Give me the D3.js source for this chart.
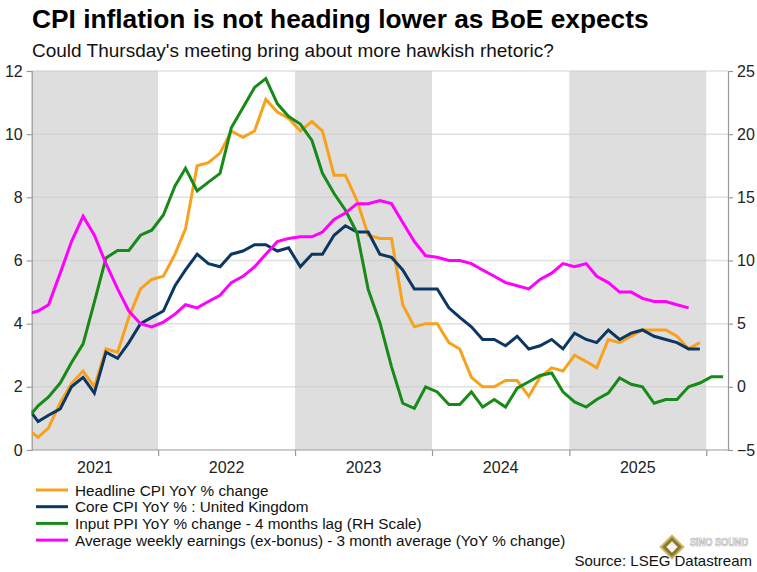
<!DOCTYPE html>
<html>
<head>
<meta charset="utf-8">
<script src="https://cdn.jsdelivr.net/npm/d3@7"></script>
<style>
    body { margin: 0; background: #fff; }
    svg { display: block; font-family: "Liberation Sans", Arial, sans-serif; }
</style>
</head>
<body>
<div id="chart"></div>
<script>
// Monthly readings, Jan 2021 onwards
const headlineCpi = [
    0.7, 0.4, 0.7, 1.5, 2.1, 2.5, 2.0, 3.2, 3.1, 4.2, 5.1, 5.4,
    5.5, 6.2, 7.0, 9.0, 9.1, 9.4, 10.1, 9.9, 10.1, 11.1, 10.7, 10.5,
    10.1, 10.4, 10.1, 8.7, 8.7, 7.9, 6.8, 6.7, 6.7, 4.6, 3.9, 4.0,
    4.0, 3.4, 3.2, 2.3, 2.0, 2.0, 2.2, 2.2, 1.7, 2.3, 2.6, 2.5,
    3.0, 2.8, 2.6, 3.5, 3.4, 3.6, 3.8, 3.8, 3.8, 3.6, 3.2, 3.4
];
const coreCpi = [
    1.4, 0.9, 1.1, 1.3, 2.0, 2.3, 1.8, 3.1, 2.9, 3.4, 4.0, 4.2,
    4.4, 5.2, 5.7, 6.2, 5.9, 5.8, 6.2, 6.3, 6.5, 6.5, 6.3, 6.4,
    5.8, 6.2, 6.2, 6.8, 7.1, 6.9, 6.9, 6.2, 6.1, 5.7, 5.1, 5.1,
    5.1, 4.5, 4.2, 3.9, 3.5, 3.5, 3.3, 3.6, 3.2, 3.3, 3.5, 3.2,
    3.7, 3.5, 3.4, 3.8, 3.5, 3.7, 3.8, 3.6, 3.5, 3.4, 3.2, 3.2
];
// right hand scale, runs to Feb 2026
const inputPpiLag = [
    -2.6, -1.5, -0.8, 0.3, 1.9, 3.4, 6.7, 10.2, 10.8, 10.8, 12.0, 12.4,
    13.6, 15.9, 17.3, 15.5, 16.2, 16.9, 20.5, 22.1, 23.7, 24.4, 22.4, 21.4,
    20.8, 19.5, 16.9, 15.3, 14.0, 12.2, 7.7, 5.1, 1.6, -1.3, -1.7, 0.0,
    -0.4, -1.4, -1.4, -0.4, -1.6, -1.0, -1.6, -0.1, 0.4, 0.9, 1.1, -0.4,
    -1.2, -1.6, -1.0, -0.5, 0.7, 0.2, 0.0, -1.3, -1.0, -1.0, 0.0, 0.3,
    0.8, 0.8
];
// runs to Nov 2025
const weeklyEarnings = [
    4.3, 4.4, 4.6, 5.6, 6.6, 7.4, 6.8, 5.9, 5.1, 4.4, 4.0, 3.9,
    4.05, 4.3, 4.6, 4.5, 4.7, 4.9, 5.3, 5.5, 5.8, 6.2, 6.6, 6.7,
    6.75, 6.75, 6.9, 7.3, 7.5, 7.8, 7.8, 7.9, 7.8, 7.2, 6.6, 6.15,
    6.1, 6.0, 6.0, 5.9, 5.7, 5.5, 5.3, 5.2, 5.1, 5.4, 5.6, 5.9,
    5.8, 5.9, 5.5, 5.3, 5.0, 5.0, 4.8, 4.7, 4.7, 4.6, 4.5
];

const years = [2021, 2022, 2023, 2024, 2025];
const shadedYears = [2021, 2023, 2025];
const leftTicks = [0, 2, 4, 6, 8, 10, 12];
const rightTicks = [-5, 0, 5, 10, 15, 20, 25];

const seriesList = [
    { name: "Headline CPI YoY % change", values: headlineCpi, axis: "left", color: "#f7a11c" },
    { name: "Core CPI YoY % : United Kingdom", values: coreCpi, axis: "left", color: "#0c3762" },
    { name: "Input PPI YoY % change - 4 months lag (RH Scale)", values: inputPpiLag, axis: "right", color: "#178a17" },
    { name: "Average weekly earnings (ex-bonus) - 3 month average (YoY % change)", values: weeklyEarnings, axis: "left", color: "#ff00ff" }
];

const width = 757;
const height = 572;
const plot = { left: 31.7, right: 728, top: 71, bottom: 450 };

const monthDate = i => new Date(2021, i, 15);

const x = d3.scaleTime()
    .domain([new Date(2021, 0, 29), new Date(2026, 1, 28)])
    .range([plot.left, plot.right]);
const yLeft = d3.scaleLinear().domain([0, 12]).range([plot.bottom, plot.top]);
const yRight = d3.scaleLinear().domain([-5, 25]).range([plot.bottom, plot.top]);

const svg = d3.select("#chart").append("svg")
    .attr("width", width)
    .attr("height", height);

// Title and subtitle
svg.append("text")
    .attr("x", 32)
    .attr("y", 27.5)
    .style("font-size", "26.3px")
    .style("font-weight", "bold")
    .attr("fill", "#000")
    .text("CPI inflation is not heading lower as BoE expects");

svg.append("text")
    .attr("x", 32)
    .attr("y", 57)
    .style("font-size", "19px")
    .attr("fill", "#111")
    .text("Could Thursday's meeting bring about more hawkish rhetoric?");

svg.append("defs").append("clipPath")
    .attr("id", "plotClip")
    .append("rect")
    .attr("x", plot.left)
    .attr("y", plot.top - 5)
    .attr("width", plot.right - plot.left)
    .attr("height", plot.bottom - plot.top + 10);

// Shaded year bands
svg.append("g")
    .selectAll("rect")
    .data(shadedYears)
    .join("rect")
    .attr("x", d => Math.max(plot.left, x(new Date(d, 0, 1))))
    .attr("y", plot.top)
    .attr("width", d => Math.min(plot.right, x(new Date(d + 1, 0, 1))) - Math.max(plot.left, x(new Date(d, 0, 1))))
    .attr("height", plot.bottom - plot.top)
    .attr("fill", "#dedede");

// Gridlines
svg.append("g")
    .selectAll("line")
    .data(leftTicks.filter(d => d > 0))
    .join("line")
    .attr("x1", plot.left)
    .attr("x2", plot.right)
    .attr("y1", d => yLeft(d))
    .attr("y2", d => yLeft(d))
    .attr("stroke", "#c8c8c8")
    .attr("stroke-opacity", 0.55)
    .attr("stroke-width", 1.5);

// Left axis
const leftAxis = svg.append("g")
    .attr("transform", `translate(${plot.left},0)`)
    .call(d3.axisLeft(yLeft).tickValues(leftTicks).tickSize(5).tickPadding(4));

// Right axis
const rightAxis = svg.append("g")
    .attr("transform", `translate(${plot.right},0)`)
    .call(d3.axisRight(yRight).tickValues(rightTicks).tickSize(5).tickPadding(4));

// Bottom axis, ticks on year boundaries, labels centered in the visible year
const boundaries = years.slice(1).map(d => new Date(d, 0, 1)).concat([new Date(2026, 0, 1)]);
const bottomAxis = svg.append("g")
    .attr("transform", `translate(0,${plot.bottom})`)
    .call(d3.axisBottom(x).tickValues(boundaries).tickSize(6).tickFormat(""));

[leftAxis, rightAxis, bottomAxis].forEach(axis => {
    axis.select(".domain").attr("stroke", "#999").attr("stroke-width", 1.2);
    axis.selectAll(".tick line").attr("stroke", "#999").attr("stroke-width", 1.2);
    axis.selectAll(".tick text")
        .style("font-size", "16px")
        .attr("fill", "#222")
        .style("font-family", "'Liberation Sans', Arial, sans-serif");
});
bottomAxis.select(".domain").attr("d", `M${plot.left},0H${plot.right}`);

svg.append("g")
    .selectAll("text")
    .data(years)
    .join("text")
    .attr("x", d => (Math.max(plot.left, x(new Date(d, 0, 1))) + x(new Date(d + 1, 0, 1))) / 2)
    .attr("y", 473)
    .attr("text-anchor", "middle")
    .style("font-size", "16px")
    .attr("fill", "#222")
    .text(d => d);

// Lines
const lineLayer = svg.append("g").attr("clip-path", "url(#plotClip)");

seriesList.forEach(s => {
    const yScale = s.axis === "left" ? yLeft : yRight;
    const line = d3.line()
        .x((d, i) => x(monthDate(i)))
        .y(d => yScale(d));

    lineLayer.append("path")
        .datum(s.values)
        .attr("fill", "none")
        .attr("stroke", s.color)
        .attr("stroke-width", 3)
        .attr("stroke-linejoin", "miter")
        .attr("d", line);
});

// Legend
const legend = svg.append("g")
    .selectAll("g")
    .data(seriesList)
    .join("g")
    .attr("transform", (d, i) => `translate(36,${490 + i * 16.7})`);

legend.append("line")
    .attr("x1", 0)
    .attr("x2", 32)
    .attr("stroke", d => d.color)
    .attr("stroke-width", 3);

legend.append("text")
    .attr("x", 39)
    .attr("y", 5.5)
    .style("font-size", "15.3px")
    .attr("fill", "#111")
    .text(d => d.name);

// Watermark logo
const mark = svg.append("g").attr("transform", "translate(672,547)");
mark.append("rect")
    .attr("x", -8).attr("y", -8).attr("width", 16).attr("height", 16)
    .attr("transform", "rotate(45)")
    .attr("fill", "#8a7a2a")
    .attr("stroke", "#c9b76a")
    .attr("stroke-width", 2);
mark.append("rect")
    .attr("x", -4).attr("y", -4).attr("width", 8).attr("height", 8)
    .attr("transform", "rotate(45)")
    .attr("fill", "#f3f3f3");
svg.append("text")
    .attr("x", 690)
    .attr("y", 546)
    .attr("textLength", 58)
    .attr("lengthAdjust", "spacingAndGlyphs")
    .style("font-size", "10px")
    .style("font-weight", "bold")
    .attr("fill", "#fff")
    .attr("stroke", "#aaa")
    .attr("stroke-width", 0.6)
    .text("SiNO SOUND");

// Source
svg.append("text")
    .attr("x", 752)
    .attr("y", 566)
    .attr("text-anchor", "end")
    .style("font-size", "15px")
    .attr("fill", "#111")
    .text("Source: LSEG Datastream");
</script>
</body>
</html>
